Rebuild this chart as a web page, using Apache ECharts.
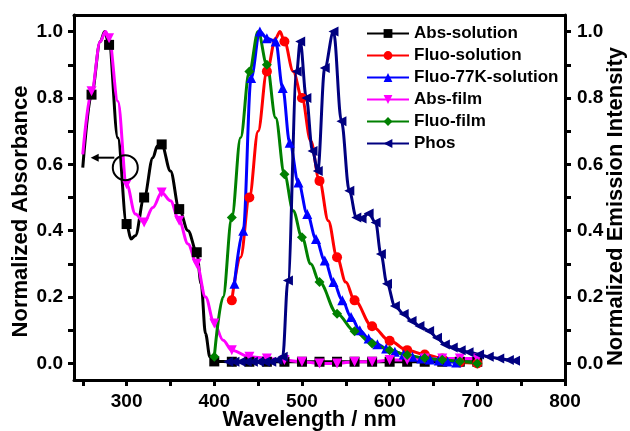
<!DOCTYPE html>
<html>
<head>
<meta charset="utf-8">
<script src="https://cdn.jsdelivr.net/npm/echarts@6/dist/echarts.min.js"></script>
<style>
  html, body { margin: 0; padding: 0; background: #fff; }
  #chart { width: 630px; height: 431px; }
</style>
</head>
<body>
<div id="chart"></div>
<script>
// axis ticks / labels
const xTicks = [250, 300, 350, 400, 450, 500, 550, 600, 650, 700, 750, 800];
const xLabels = [300, 400, 500, 600, 700, 800];
const yTicks = [0, 0.1, 0.2, 0.3, 0.4, 0.5, 0.6, 0.7, 0.8, 0.9, 1.0];
const yLabels = [0, 0.2, 0.4, 0.6, 0.8, 1.0];

// Abs-solution
const absSolWl = [250, 260, 270, 275, 280, 290, 300, 305, 310, 320, 330, 335, 340, 350, 360, 370, 380, 385, 390, 395, 400,
  420, 440, 460, 480, 500, 520, 540, 560, 580, 600, 620, 640, 660, 680, 700];
const absSolVal = [0.59, 0.81, 0.97, 1.0, 0.96, 0.68, 0.42, 0.375, 0.385, 0.50, 0.62, 0.655, 0.66, 0.58, 0.465, 0.40, 0.335, 0.24, 0.09, 0.02, 0.006,
  0.005, 0.005, 0.005, 0.005, 0.005, 0.005, 0.005, 0.005, 0.005, 0.005, 0.005, 0.005, 0.005, 0.005, 0.005];

// Fluo-solution
const fluoSolWl = [420, 430, 440, 450, 460, 470, 475, 480, 490, 500, 510, 520, 530, 540, 550, 560, 580, 600, 620, 640, 660, 680, 700];
const fluoSolVal = [0.19, 0.32, 0.50, 0.70, 0.88, 0.98, 1.0, 0.97, 0.88, 0.80, 0.67, 0.55, 0.43, 0.32, 0.245, 0.19, 0.112, 0.068, 0.04, 0.027, 0.015, 0.003, 0.0];

// Fluo-77K-solution
const fluo77Wl = [423, 433, 442, 452, 460, 470, 478, 486, 496, 506, 516, 526, 536, 546, 556, 566, 576, 586, 596, 606, 616, 626, 636, 646, 656, 666, 676];
const fluo77Val = [0.24, 0.40, 0.86, 1.0, 0.98, 0.97, 0.83, 0.665, 0.545, 0.45, 0.375, 0.31, 0.245, 0.19, 0.14, 0.10, 0.075, 0.058, 0.045, 0.035, 0.027, 0.02, 0.015, 0.012, 0.009, 0.006, 0.003];

// Abs-film
const absFilmWl = [250, 260, 270, 276, 280, 290, 300, 310, 320, 330, 340, 350, 360, 370, 380, 390, 400, 410, 420, 440,
  460, 480, 500, 520, 540, 560, 580, 600, 620, 640, 660, 680, 700];
const absFilmVal = [0.63, 0.82, 0.97, 1.0, 0.98, 0.79, 0.54, 0.45, 0.425, 0.47, 0.515, 0.49, 0.43, 0.36, 0.30, 0.20, 0.12, 0.07, 0.04, 0.02,
  0.015, 0.01, 0.005, 0.0, 0.0, 0.005, 0.005, 0.01, 0.01, 0.015, 0.015, 0.015, 0.015];

// Fluo-film
const fluoFilmWl = [400, 410, 420, 430, 440, 450, 460, 470, 480, 490, 500, 510, 520, 540, 560, 580, 600, 620, 640, 660, 680, 700];
const fluoFilmVal = [0.02, 0.2, 0.44, 0.68, 0.88, 1.0, 0.90, 0.74, 0.57, 0.46, 0.38, 0.30, 0.245, 0.15, 0.097, 0.06, 0.04, 0.025, 0.016, 0.011, 0.006, 0.0];

// Phos
const phosWl = [416, 423, 430, 437, 444, 451, 458, 465, 472, 478, 484, 494, 498, 505, 512, 518, 526, 536, 545, 554,
  562, 568, 576, 584, 590, 597, 606, 616, 625, 634, 645, 654, 663, 672, 681, 690, 702, 713, 725, 736, 743];
const phosVal = [0.005, 0.005, 0.005, 0.005, 0.005, 0.005, 0.005, 0.005, 0.01, 0.02, 0.25, 0.88, 0.97, 0.80, 0.64, 0.58, 0.89, 1.0, 0.73, 0.52,
  0.44, 0.437, 0.452, 0.425, 0.33, 0.24, 0.173, 0.149, 0.128, 0.113, 0.098, 0.077, 0.057, 0.048, 0.04, 0.034, 0.027, 0.02, 0.015, 0.01, 0.008];

// annotation (data coords): circle + arrow pointing to left axis
const circleAt = [298.5, 0.59];
const arrowFrom = [286, 0.62];
const arrowTo = [259, 0.62];

const font = '"Liberation Sans", Arial, sans-serif';
const chart = echarts.init(document.getElementById('chart'));

function pairs(xs, ys) {
  return xs.map((x, i) => [x, ys[i]]);
}

// markStep: only draw a marker on wavelengths divisible by it (0 = every point)
function line(name, xs, ys, color, symbol, rotate, markStep, axis) {
  return {
    name,
    type: 'line',
    yAxisIndex: axis,
    data: pairs(xs, ys),
    smooth: 0.35,
    smoothMonotone: 'x',
    symbol,
    symbolRotate: rotate,
    symbolSize: (v) => (markStep && v[0] % markStep !== 0 ? 0 : 10),
    showAllSymbol: true,
    color,
    lineStyle: { color, width: 3 },
    itemStyle: { color },
    emphasis: { disabled: true },
    animation: false
  };
}

const axisLine = { show: true, onZero: false, lineStyle: { color: '#000', width: 3 } };
const tickStyle = { color: '#000', width: 3 };
const labelFont = { fontFamily: font, fontWeight: 'bold', fontSize: 19, color: '#000' };
const titleFont = { fontFamily: font, fontWeight: 'bold', fontSize: 22, color: '#000' };

const yAxisBase = (pos, title) => ({
  type: 'value',
  position: pos,
  min: -0.05,
  max: 1.05,
  name: title,
  nameLocation: 'middle',
  nameRotate: 90,
  nameMoveOverlap: false,
  nameGap: pos === 'left' ? 42 : 40,
  nameTextStyle: Object.assign({}, titleFont, { padding: [0, pos === 'left' ? 28 : 18, 0, 0] }),
  axisLine,
  axisTick: { show: true, inside: false, length: 6, lineStyle: tickStyle, customValues: yTicks },
  axisLabel: Object.assign({}, labelFont, {
    margin: pos === 'left' ? 11 : 12,
    customValues: yLabels,
    formatter: (v) => v.toFixed(1)
  }),
  splitLine: { show: false }
});

const option = {
  backgroundColor: '#fff',
  animation: false,
  grid: { left: 74, right: 65, top: 15, bottom: 51, containLabel: false, outerBoundsMode: 'none' },
  legend: {
    orient: 'vertical',
    left: 361,
    top: 20,
    itemWidth: 42,
    itemHeight: 11,
    itemGap: 5,
    textStyle: { fontFamily: font, fontWeight: 'bold', fontSize: 17, color: '#000' },
    data: ['Abs-solution', 'Fluo-solution', 'Fluo-77K-solution', 'Abs-film', 'Fluo-film', 'Phos']
  },
  xAxis: [
    {
      type: 'value',
      min: 240,
      max: 800,
      name: 'Wavelength / nm',
      nameLocation: 'middle',
      nameMoveOverlap: false,
      nameGap: 29,
      nameTextStyle: Object.assign({}, titleFont, { padding: [0, 20, 0, 0] }),
      axisLine,
      axisTick: { show: true, inside: false, length: 6, lineStyle: tickStyle, customValues: xTicks },
      axisLabel: Object.assign({}, labelFont, { margin: 12, customValues: xLabels }),
      splitLine: { show: false }
    },
    {
      type: 'value',
      position: 'top',
      min: 240,
      max: 800,
      axisLine,
      axisTick: { show: false },
      axisLabel: { show: false },
      splitLine: { show: false }
    }
  ],
  yAxis: [
    yAxisBase('left', 'Normalized Absorbance'),
    yAxisBase('right', 'Normalized Emission Intensity')
  ],
  series: [
    line('Abs-solution', absSolWl, absSolVal, '#000000', 'rect', 0, 20, 0),
    line('Fluo-solution', fluoSolWl, fluoSolVal, '#ff0000', 'circle', 0, 20, 1),
    line('Fluo-77K-solution', fluo77Wl, fluo77Val, '#0000ff', 'triangle', 0, 0, 1),
    line('Abs-film', absFilmWl, absFilmVal, '#ff00ff', 'triangle', 180, 20, 0),
    line('Fluo-film', fluoFilmWl, fluoFilmVal, '#008000', 'diamond', 0, 20, 1),
    line('Phos', phosWl, phosVal, '#000080', 'triangle', 90, 0, 1)
  ]
};

chart.setOption(option);

// annotation drawn in pixel space from data coordinates
const toPx = (pt) => chart.convertToPixel({ xAxisIndex: 0, yAxisIndex: 0 }, pt);
const c = toPx(circleAt);
const a0 = toPx(arrowFrom);
const a1 = toPx(arrowTo);
chart.setOption({
  graphic: [
    {
      type: 'circle',
      shape: { cx: c[0], cy: c[1], r: 12.5 },
      style: { fill: 'none', stroke: '#000', lineWidth: 2 },
      z: 100
    },
    {
      type: 'line',
      shape: { x1: a0[0], y1: a0[1], x2: a1[0] + 6, y2: a1[1] },
      style: { stroke: '#000', lineWidth: 2 },
      z: 100
    },
    {
      type: 'polygon',
      shape: { points: [[a1[0], a1[1]], [a1[0] + 8, a1[1] - 4], [a1[0] + 8, a1[1] + 4]] },
      style: { fill: '#000' },
      z: 100
    }
  ]
});
</script>
</body>
</html>
